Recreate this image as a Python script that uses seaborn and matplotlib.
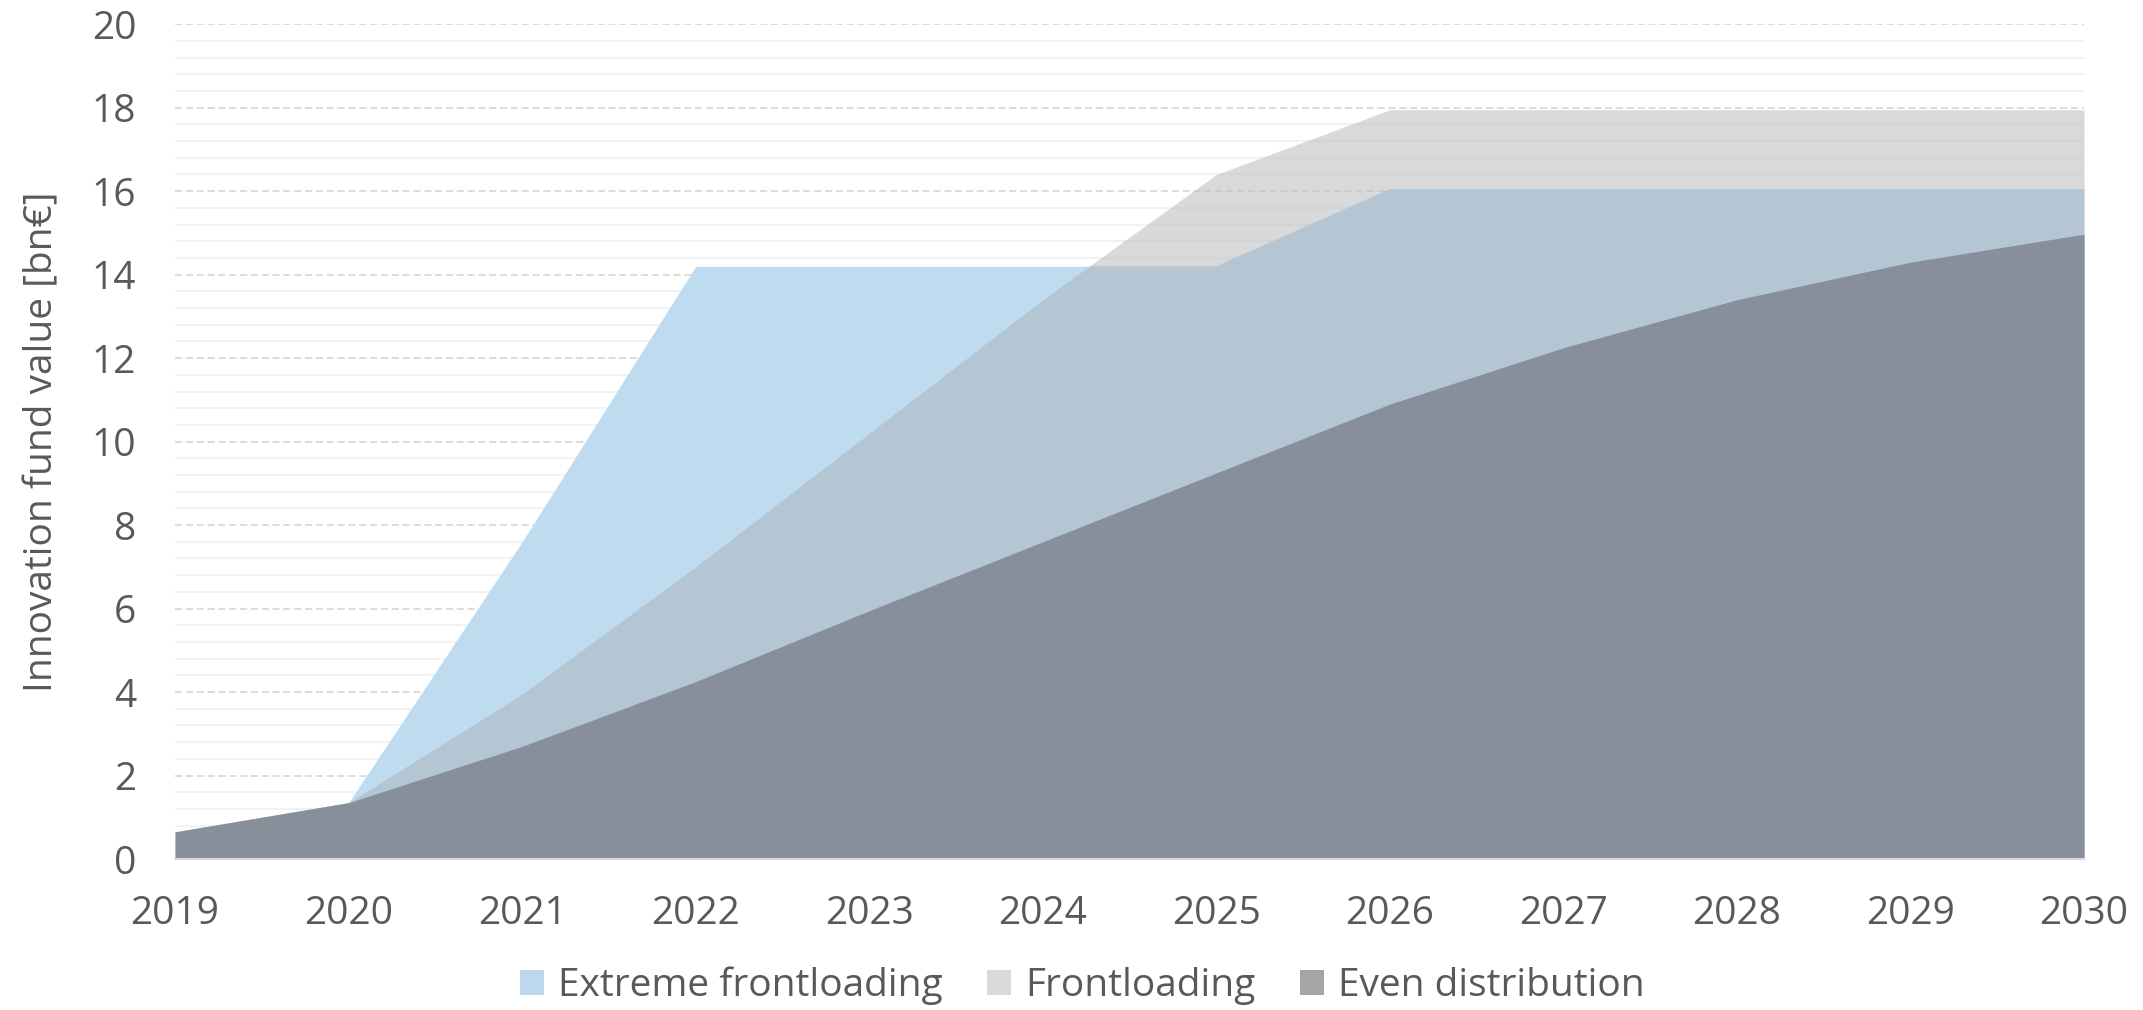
import numpy as np
import pandas as pd
import matplotlib
matplotlib.use("Agg")
import matplotlib.pyplot as plt
from matplotlib.patches import Patch
from matplotlib.ticker import MultipleLocator
import seaborn as sns

years = [2019, 2020, 2021, 2022, 2023, 2024, 2025, 2026, 2027, 2028, 2029, 2030]
extreme_frontloading = [0.65, 1.35, 7.6, 14.2, 14.2, 14.2, 14.2, 16.05, 16.05, 16.05, 16.05, 16.05]
frontloading = [0.65, 1.35, 3.95, 7.0, 10.2, 13.4, 16.4, 17.95, 17.95, 17.95, 17.95, 17.95]
even_distribution = [0.65, 1.35, 2.7, 4.25, 5.95, 7.6, 9.25, 10.9, 12.25, 13.4, 14.3, 14.97]
series_names = ["Extreme frontloading", "Frontloading", "Even distribution"]
legend_colors = ["#BDD7EE", "#D9D9D9", "#A5A5A5"]

df = pd.DataFrame({"year": years, "Extreme frontloading": extreme_frontloading,
                   "Frontloading": frontloading, "Even distribution": even_distribution})

sns.set_theme(style="white")
plt.rcParams["font.family"] = ["Open Sans", "DejaVu Sans"]

fig = plt.figure(figsize=(21.43, 10.10), dpi=100)
ax = fig.add_axes([0.0817, 0.1495, 0.8908, 0.8265])

ax.set_axisbelow(True)
ax.fill_between(df["year"], 0, df["Frontloading"], color="#C2C2C2", alpha=0.62,
                linewidth=0, zorder=1)
blue = ax.fill_between(df["year"], 0, df["Extreme frontloading"], color="#BFDBF0",
                       linewidth=0, zorder=2)
ov = ax.fill_between(df["year"], 0, df["Frontloading"], color="#B4C6D4",
                     linewidth=0, zorder=3)
ov.set_clip_path(blue.get_paths()[0], transform=ax.transData)
ax.fill_between(df["year"], 0, df["Even distribution"], color="#87909A",
                linewidth=0, zorder=4)

ax.set_xlim(2019, 2030)
ax.set_ylim(0, 20)
ax.set_xticks(years)
ax.set_xticklabels([str(y) for y in years])
ax.yaxis.set_major_locator(MultipleLocator(2))
ax.yaxis.set_minor_locator(MultipleLocator(0.4))
ax.grid(axis="y", which="major", color="#D9D9D9", linestyle=(0, (4, 2)), linewidth=1.3)
ax.grid(axis="y", which="minor", color="#F2F2F2", linestyle="-", linewidth=1.5)
ax.grid(axis="x", visible=False)

for s in ["top", "right", "left"]:
    ax.spines[s].set_visible(False)
ax.spines["bottom"].set_color("#D9D9D9")
ax.spines["bottom"].set_linewidth(1.5)
ax.spines["bottom"].set_zorder(5)

ax.tick_params(axis="both", which="both", length=0, labelsize=28, labelcolor="#595959")
ax.tick_params(axis="y", pad=28)
ax.tick_params(axis="x", pad=26)
ax.set_ylabel("Innovation fund value [bn€]", fontsize=28, color="#595959", labelpad=22)
ax.set_xlabel("")

handles = [Patch(facecolor=c, edgecolor="none") for c in legend_colors]
fig.legend(handles, series_names, loc="center", bbox_to_anchor=(0.505, 0.024),
           ncol=3, frameon=False, fontsize=28, labelcolor="#595959",
           handlelength=0.62, handleheight=0.62, handletextpad=0.35, columnspacing=1.15)

fig.savefig("out.png", dpi=100)
